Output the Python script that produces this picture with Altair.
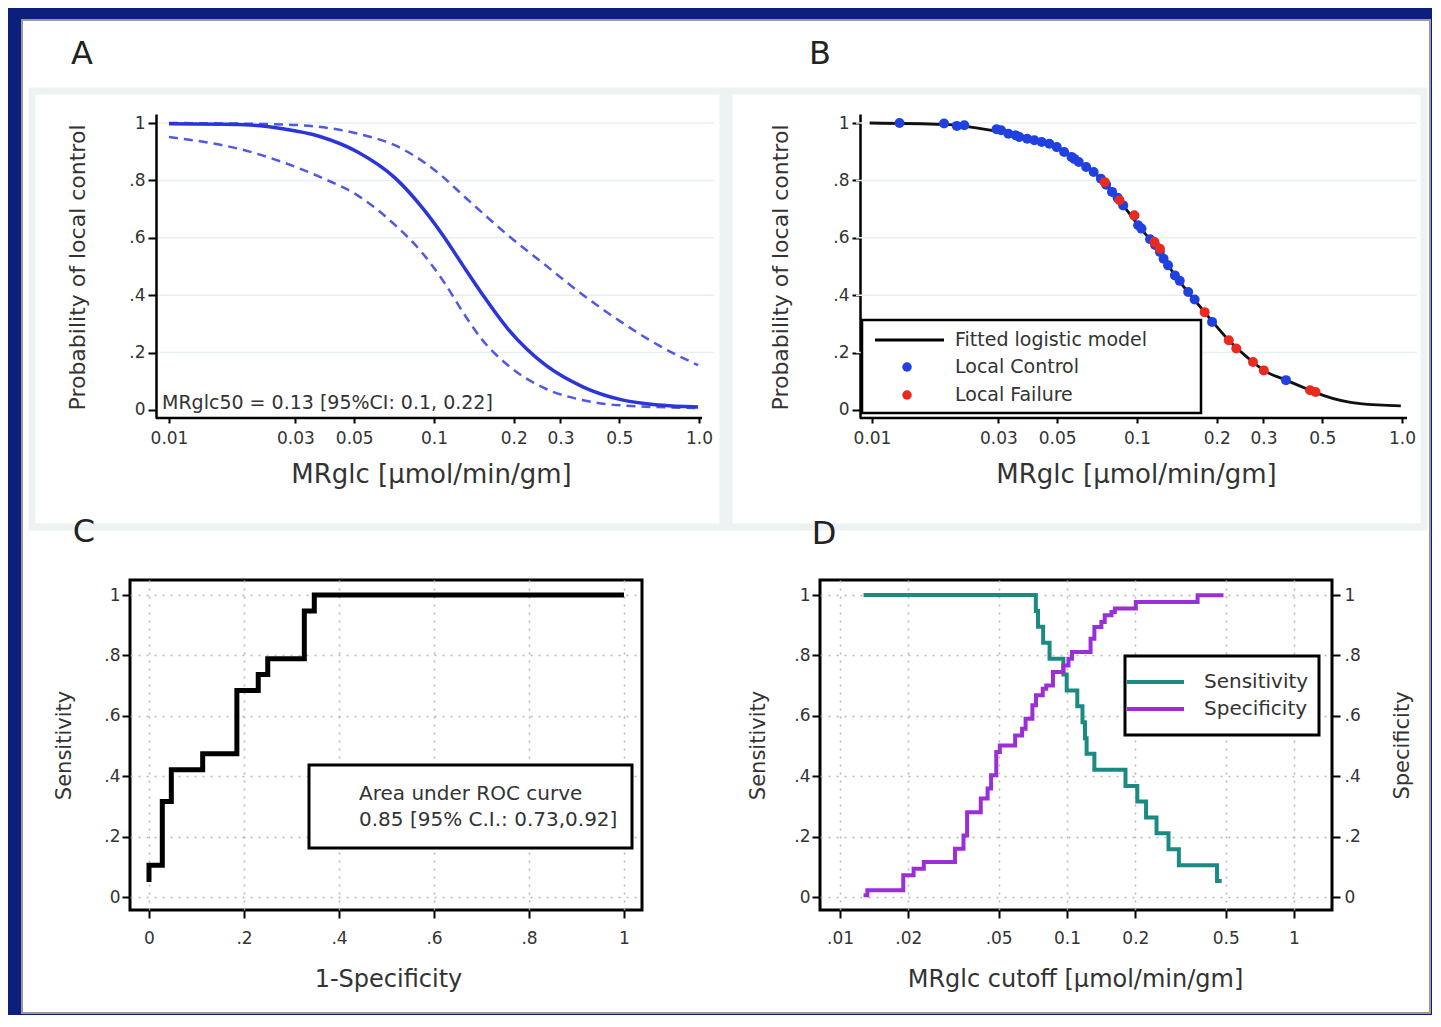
import altair as alt
import pandas as pd

# ---------------- data ----------------
# Panel A: fitted logistic model with 95% confidence band
a_fit_x = [0.01, 0.0193, 0.0268, 0.0371, 0.0515, 0.0714, 0.0898, 0.109, 0.1285, 0.151, 0.190, 0.264, 0.366, 0.508, 0.705, 0.992]
a_fit_y = [0.997, 0.994, 0.98, 0.953, 0.899, 0.808, 0.708, 0.604, 0.504, 0.408, 0.283, 0.156, 0.080, 0.036, 0.017, 0.010]
a_hi_x = [0.01, 0.0268, 0.0515, 0.0714, 0.099, 0.137, 0.190, 0.264, 0.366, 0.508, 0.705, 0.992]
a_hi_y = [1.0, 0.995, 0.963, 0.922, 0.841, 0.725, 0.609, 0.504, 0.40, 0.307, 0.225, 0.156]
a_lo_x = [0.01, 0.0193, 0.0268, 0.0371, 0.0515, 0.0714, 0.0898, 0.109, 0.1285, 0.151, 0.190, 0.264, 0.366, 0.508, 0.992]
a_lo_y = [0.951, 0.905, 0.864, 0.812, 0.748, 0.644, 0.55, 0.446, 0.341, 0.248, 0.156, 0.074, 0.034, 0.016, 0.007]
a_note = "MRglc50 = 0.13 [95%CI: 0.1, 0.22]"

# Panel B: fitted curve and patients
b_fit_x = [0.0098, 0.0187, 0.0279, 0.0349, 0.0437, 0.0531, 0.0643, 0.0731, 0.0887, 0.101, 0.122, 0.139, 0.156, 0.180, 0.222, 0.274, 0.301, 0.365, 0.45, 0.504, 0.695, 0.99]
b_fit_y = [1.0, 0.995, 0.975, 0.957, 0.934, 0.899, 0.847, 0.806, 0.713, 0.644, 0.551, 0.469, 0.411, 0.341, 0.243, 0.167, 0.138, 0.104, 0.069, 0.051, 0.022, 0.014]
b_ctrl_x = [0.0127, 0.0187, 0.0209, 0.0223, 0.0295, 0.0307, 0.0327, 0.0349, 0.036, 0.0385, 0.041, 0.0437, 0.0467,
            0.0498, 0.0531, 0.0566, 0.058, 0.0603, 0.0643, 0.0686, 0.0731, 0.0765, 0.0805, 0.0845, 0.0887, 0.0977,
            0.101, 0.104, 0.112, 0.117, 0.122, 0.126, 0.131, 0.139, 0.145, 0.156, 0.165, 0.192, 0.365]
b_ctrl_y = [1.0, 0.998, 0.99, 0.992, 0.978, 0.975, 0.963, 0.957, 0.951, 0.945, 0.94, 0.934, 0.928,
            0.916, 0.899, 0.882, 0.875, 0.864, 0.847, 0.829, 0.806, 0.785, 0.76, 0.74, 0.713, 0.678,
            0.644, 0.632, 0.595, 0.575, 0.551, 0.527, 0.504, 0.469, 0.45, 0.411, 0.385, 0.307, 0.104]
b_fail_x = [0.0755, 0.0859, 0.0977, 0.1164, 0.122, 0.180, 0.222, 0.237, 0.274, 0.301, 0.450, 0.472]
b_fail_y = [0.794, 0.731, 0.678, 0.585, 0.562, 0.341, 0.243, 0.214, 0.167, 0.138, 0.069, 0.063]
b_legend = ["Fitted logistic model", "Local Control", "Local Failure"]

# Panel C: ROC curve (step vertices)
c_fpr = [0.0, 0.0, 0.028, 0.047, 0.113, 0.185, 0.23, 0.25, 0.327, 0.348, 1.0]
c_tpr = [0.05, 0.105, 0.316, 0.421, 0.474, 0.684, 0.737, 0.789, 0.947, 1.0, 1.0]
c_note = ["Area under ROC curve", "0.85 [95% C.I.: 0.73,0.92]"]

# Panel D: sensitivity / specificity vs cutoff (step vertices)
d_sens_x = [0.0127, 0.0729, 0.0745, 0.0785, 0.0838, 0.0964, 0.0997, 0.111, 0.117, 0.120, 0.122, 0.132,
            0.181, 0.204, 0.223, 0.248, 0.280, 0.311, 0.458, 0.480]
d_sens_y = [1.0, 0.947, 0.895, 0.842, 0.789, 0.737, 0.684, 0.632, 0.579, 0.526, 0.474, 0.421,
            0.368, 0.316, 0.263, 0.211, 0.158, 0.105, 0.053, 0.053]
d_spec_x = [0.0127, 0.0132, 0.0190, 0.0211, 0.0234, 0.0321, 0.0350, 0.0363, 0.0417, 0.0447, 0.0463, 0.0488,
            0.0506, 0.0591, 0.0634, 0.0657, 0.0704, 0.0730, 0.0782, 0.0810, 0.0867, 0.0964, 0.1015, 0.1052,
            0.1270, 0.1320, 0.1417, 0.1466, 0.1570, 0.1625, 0.2010, 0.3760, 0.4890]
d_spec_y = [0.006, 0.022, 0.072, 0.094, 0.116, 0.160, 0.204, 0.281, 0.326, 0.359, 0.403, 0.480,
            0.502, 0.535, 0.557, 0.590, 0.635, 0.668, 0.690, 0.700, 0.745, 0.767, 0.789, 0.811,
            0.855, 0.894, 0.911, 0.933, 0.944, 0.955, 0.977, 0.999, 0.999]
d_legend = ["Sensitivity", "Specificity"]

# ticks and labels
tick_prob = [0, 0.2, 0.4, 0.6, 0.8, 1]
tick_mrglc_ab = [0.01, 0.03, 0.05, 0.1, 0.2, 0.3, 0.5, 1.0]
tick_mrglc_d = [0.01, 0.02, 0.05, 0.1, 0.2, 0.5, 1]
panel_letters = ["A", "B", "C", "D"]

# ---------------- styling ----------------
FONT = "DejaVu Sans"
INK = "#333333"
NAVY = "#0c1f7c"
BLUE = "#2b35d8"
BLUE_CI = "#5059e3"
PT_BLUE = "#2140e0"
PT_RED = "#ea2a1f"
TEAL = "#1b8a80"
PURPLE = "#9a2fd8"
PANEL = "#edf2f3"
GRID_AB = "#e9eff1"

PROB_EXPR = "datum.value == 0 ? '0' : datum.value == 1 ? '1' : replace(format(datum.value, '.1f'), '0.', '.')"

one = pd.DataFrame({"k": [0]})


def deco_rect(x, x2, y, y2, **kw):
    return alt.Chart(one).mark_rect(**kw).encode(
        x=alt.value(x), x2=alt.value(x2), y=alt.value(y), y2=alt.value(y2))


def deco_rule(x, x2, y, color, width):
    return alt.Chart(one).mark_rule(color=color, strokeWidth=width).encode(
        x=alt.value(x), x2=alt.value(x2), y=alt.value(y))


def deco_text(txt, x, y, size, align="left", color=INK):
    return alt.Chart(one).mark_text(text=txt, font=FONT, fontSize=size, align=align,
                                    baseline="middle", color=color).encode(
        x=alt.value(x), y=alt.value(y))


def df(xs, ys):
    return pd.DataFrame({"x": xs, "y": ys})


# ---------------- Panel A ----------------
WA, HA = 584, 304
axA_x = alt.Axis(values=tick_mrglc_ab, labelExpr="datum.value >= 1 ? '1.0' : format(datum.value, '.2~f')",
                 domain=False, tickSize=5, labelPadding=7, grid=False, zindex=1,
                 title="MRglc [μmol/min/gm]", titleFontSize=26, titleX=301, titleY=64,
                 titleBaseline="alphabetic", titleAlign="center")
axA_y = alt.Axis(values=tick_prob, labelExpr=PROB_EXPR, offset=-26, tickSize=8, labelPadding=3,
                 grid=False, zindex=1, title="Probability of local control", titleFontSize=22,
                 titleX=-79, titleY=153, titleAngle=270, titleBaseline="middle", titleAlign="center")
XA = alt.X("x:Q", scale=alt.Scale(type="log", domain=[0.007125, 1.1393], nice=False), axis=axA_x)
YA = alt.Y("y:Q", scale=alt.Scale(domain=[-0.0279, 1.0314], nice=False, zero=False), axis=axA_y)

A = alt.layer(
    deco_rect(-108, 1300, -94, 899, fill="white", stroke="#9a9a9a", strokeWidth=2),
    deco_rect(-98, 593, -23, 413, filled=False, color=PANEL, strokeWidth=7),
    alt.Chart(pd.DataFrame({"y": tick_prob[1:]})).mark_rule(color=GRID_AB, strokeWidth=1.5).encode(
        y=YA, x=alt.value(22), x2=alt.value(WA)),
    alt.Chart(df(a_lo_x, a_lo_y)).mark_line(color=BLUE_CI, strokeWidth=2.5, strokeDash=[9, 6],
                                            interpolate="monotone").encode(x=XA, y=YA),
    alt.Chart(df(a_hi_x, a_hi_y)).mark_line(color=BLUE_CI, strokeWidth=2.5, strokeDash=[9, 6],
                                            interpolate="monotone").encode(x=XA, y=YA),
    alt.Chart(df(a_fit_x, a_fit_y)).mark_line(color=BLUE, strokeWidth=3.5,
                                              interpolate="monotone").encode(x=XA, y=YA),
    deco_rule(26, 572, HA, "black", 2.5),
    deco_text(a_note, 32, 289, 19),
    deco_text(panel_letters[0], -48, -60, 32, align="center", color="#222222"),
).properties(width=WA, height=HA)

# ---------------- Panel B ----------------
WB, HB = 597, 304
axB_x = alt.Axis(values=tick_mrglc_ab, labelExpr="datum.value >= 1 ? '1.0' : format(datum.value, '.2~f')",
                 domain=False, tickSize=5, labelPadding=7, grid=False,
                 title="MRglc [μmol/min/gm]", titleFontSize=26, titleX=316, titleY=64,
                 titleBaseline="alphabetic", titleAlign="center")
axB_y = alt.Axis(values=tick_prob, labelExpr=PROB_EXPR, offset=-40, tickSize=8, labelPadding=3,
                 grid=False, title="Probability of local control", titleFontSize=22,
                 titleX=-80, titleY=153, titleAngle=270, titleBaseline="middle", titleAlign="center")
XB = alt.X("x:Q", scale=alt.Scale(type="log", domain=[0.006365, 1.1393], nice=False), axis=axB_x)
YB = alt.Y("y:Q", scale=alt.Scale(domain=[-0.0279, 1.0314], nice=False, zero=False), axis=axB_y)

B = alt.layer(
    deco_rect(-91, 604, -23, 413, filled=False, color=PANEL, strokeWidth=7),
    alt.Chart(pd.DataFrame({"y": tick_prob[1:]})).mark_rule(color=GRID_AB, strokeWidth=1.5).encode(
        y=YB, x=alt.value(36), x2=alt.value(WB)),
    alt.Chart(df(b_fit_x, b_fit_y)).mark_line(color="#111111", strokeWidth=2.8,
                                              interpolate="monotone").encode(x=XB, y=YB),
    alt.Chart(df(b_ctrl_x, b_ctrl_y)).mark_circle(color=PT_BLUE, size=100, opacity=1).encode(x=XB, y=YB),
    alt.Chart(df(b_fail_x, b_fail_y)).mark_circle(color=PT_RED, size=100, opacity=1).encode(x=XB, y=YB),
    deco_rect(42, 381, 206, 299, fill="white", stroke="black", strokeWidth=2.5),
    deco_rule(55, 124, 226, "black", 3),
    alt.Chart(one).mark_circle(color=PT_BLUE, size=90, opacity=1).encode(x=alt.value(87), y=alt.value(253)),
    alt.Chart(one).mark_circle(color=PT_RED, size=90, opacity=1).encode(x=alt.value(87), y=alt.value(281)),
    deco_text(b_legend[0], 135, 226, 19),
    deco_text(b_legend[1], 135, 253, 19),
    deco_text(b_legend[2], 135, 281, 19),
    deco_rule(40, 587, HB, "black", 2.5),
    deco_text(panel_letters[1], 0, -60, 32, align="center", color="#222222"),
).properties(width=WB, height=HB)

# ---------------- Panel C ----------------
WC, HC = 512, 330
axC_x = alt.Axis(values=tick_prob, labelExpr=PROB_EXPR, domain=False, tickSize=8, labelPadding=12,
                 grid=True, title="1-Specificity", titleFontSize=24, titleX=258, titleY=76,
                 titleBaseline="alphabetic", titleAlign="center")
axC_y = alt.Axis(values=tick_prob, labelExpr=PROB_EXPR, domain=False, tickSize=8, labelPadding=2,
                 grid=True, title="Sensitivity", titleFontSize=21, titleX=-66, titleY=165,
                 titleAngle=270, titleBaseline="middle", titleAlign="center")
XC = alt.X("x:Q", scale=alt.Scale(domain=[-0.04, 1.0379], nice=False, zero=False), axis=axC_x)
YC = alt.Y("y:Q", scale=alt.Scale(domain=[-0.043, 1.0497], nice=False, zero=False), axis=axC_y)

roc = pd.DataFrame({"x": c_fpr, "y": c_tpr, "i": list(range(len(c_fpr)))})
C = alt.layer(
    alt.Chart(roc).mark_line(color="black", strokeWidth=5, interpolate="step-after").encode(
        x=XC, y=YC, order=alt.Order("i:Q")),
    deco_rect(179, 502, 185, 268, fill="white", stroke="black", strokeWidth=3),
    deco_text(c_note[0], 229, 214, 20),
    deco_text(c_note[1], 229, 240, 20),
    deco_text(panel_letters[2], -46, -48, 32, align="center", color="#222222"),
).properties(width=WC, height=HC, view=alt.ViewBackground(stroke="black", strokeWidth=3, strokeOpacity=1))

# ---------------- Panel D ----------------
WD, HD = 512, 330
axD_x = alt.Axis(values=tick_mrglc_d,
                 labelExpr="datum.value < 0.1 ? replace(format(datum.value, '.2f'), '0.', '.') : format(datum.value, '~g')",
                 domain=False, tickSize=8, labelPadding=12, grid=True,
                 title="MRglc cutoff [μmol/min/gm]", titleFontSize=24, titleX=255, titleY=76,
                 titleBaseline="alphabetic", titleAlign="center")
axD_yl = alt.Axis(values=tick_prob, labelExpr=PROB_EXPR, domain=False, tickSize=8, labelPadding=2,
                  grid=True, orient="left", title="Sensitivity", titleFontSize=21, titleX=-62, titleY=165,
                  titleAngle=270, titleBaseline="middle", titleAlign="center")
axD_yr = alt.Axis(values=tick_prob, labelExpr=PROB_EXPR, domain=False, tickSize=8, labelPadding=4,
                  grid=False, orient="right", title="Specificity", titleFontSize=21, titleX=70, titleY=165,
                  titleAngle=270, titleBaseline="middle", titleAlign="center")
d_yscale = alt.Scale(domain=[-0.043, 1.0497], nice=False, zero=False)
XD = alt.X("x:Q", scale=alt.Scale(type="log", domain=[0.008165, 1.470], nice=False), axis=axD_x)
YDL = alt.Y("y:Q", scale=d_yscale, axis=axD_yl)
YDR = alt.Y("y:Q", scale=d_yscale, axis=axD_yr)

D = alt.layer(
    alt.Chart(df(d_sens_x, d_sens_y)).mark_line(color=TEAL, strokeWidth=4, interpolate="step-after").encode(
        x=XD, y=YDL),
    alt.Chart(df(d_spec_x, d_spec_y)).mark_line(color=PURPLE, strokeWidth=4, interpolate="step-after").encode(
        x=XD, y=YDR),
    deco_rect(305, 499, 76, 155, fill="white", stroke="black", strokeWidth=3),
    deco_rule(307, 364, 102, TEAL, 4),
    deco_rule(307, 364, 129, PURPLE, 4),
    deco_text(d_legend[0], 384, 102, 20),
    deco_text(d_legend[1], 384, 129, 20),
    deco_text(panel_letters[3], 4, -46, 32, align="center", color="#222222"),
).resolve_scale(y="independent").properties(
    width=WD, height=HD, view=alt.ViewBackground(stroke="black", strokeWidth=3, strokeOpacity=1))

# ---------------- assemble ----------------
chart = alt.concat(
    A, B, C, D, columns=2, bounds="flush", align="each",
    spacing={"row": 162, "column": 106},
).properties(
    background=NAVY,
    padding={"left": 12, "top": 10, "right": 0, "bottom": 0},
).configure_view(
    stroke="transparent"
).configure_axis(
    labelFont=FONT, labelFontSize=17, labelColor=INK,
    titleFont=FONT, titleColor=INK, titleFontWeight="normal",
    tickColor="black", domainColor="black", tickWidth=2, domainWidth=2.5,
    labelFlush=False, labelOverlap=False,
    gridColor="#b5b5b5", gridDash=[2, 6], gridWidth=1.5,
)

chart.save("out.html", embed_options={"renderer": "svg", "actions": False})
